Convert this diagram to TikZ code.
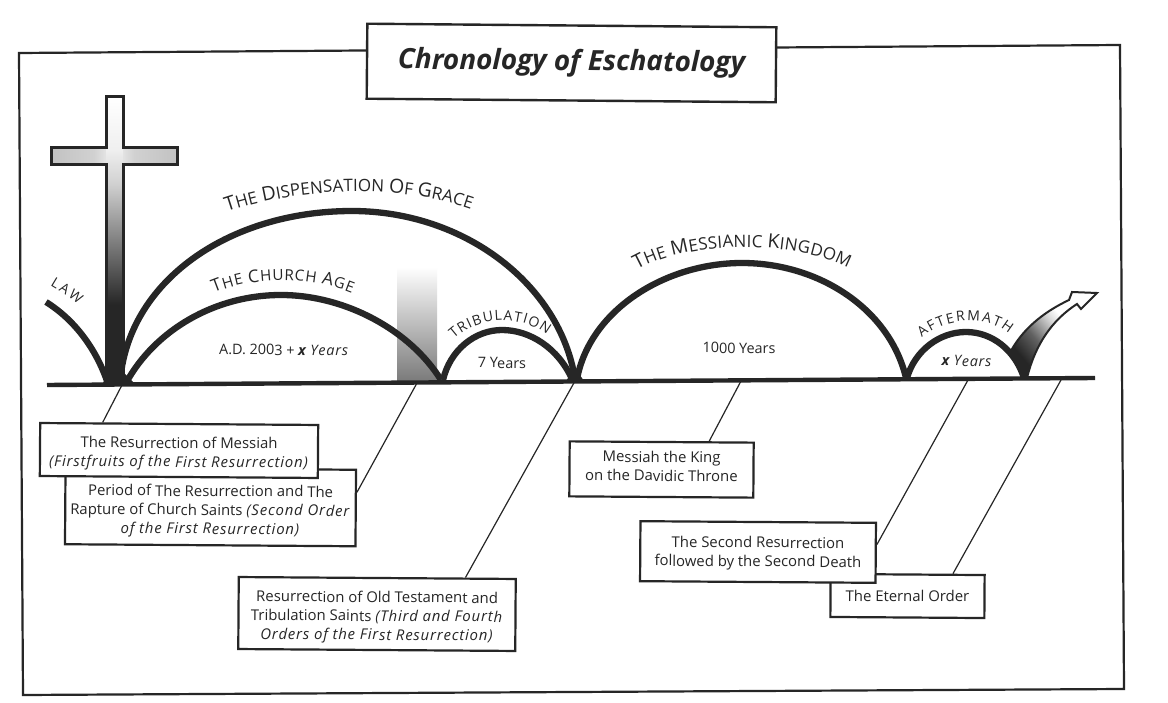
\documentclass[tikz,border=0pt]{standalone}
\usepackage{fontspec}
\setmainfont[ItalicFeatures={LetterSpace=5.5}]{Open Sans}
\usetikzlibrary{calc,decorations.text}
\definecolor{ink}{HTML}{262626}
\pgfdeclareverticalshading{postshade}{100bp}{
  color(0bp)=(ink); color(25bp)=(ink); color(39bp)=(ink);
  color(60bp)=(black!18); color(66bp)=(black!6); color(75bp)=(white); color(100bp)=(white)}
\pgfdeclarehorizontalshading{barshade}{100bp}{
  color(0bp)=(black!24); color(25bp)=(black!24); color(42bp)=(black!18);
  color(50bp)=(black!6); color(58bp)=(black!18); color(75bp)=(black!24); color(100bp)=(black!24)}
\pgfdeclarehorizontalshading{riseshade}{100bp}{
  color(0bp)=(ink); color(27bp)=(ink); color(40bp)=(black!62); color(54bp)=(black!15);
  color(60bp)=(white); color(100bp)=(white)}
\newcommand{\bigc}{\fontsize{19.5}{19.5}\selectfont}
\newcommand{\smc}{\fontsize{17}{17}\selectfont}
\newcommand{\bigd}{\fontsize{17.5}{17.5}\selectfont}
\newcommand{\smd}{\fontsize{15.2}{15.2}\selectfont}
\newcommand{\tinyc}{\fontsize{14}{14}\selectfont}
% a strut that pushes the lines of a box down by half of the extra height
\newcommand{\lift}[1]{\rule{0pt}{#1pt}}
\tikzset{
  x=1pt, y=-1pt,
  arch/.style={draw=ink, line width=6.3pt, line cap=butt},
  ground/.style={draw=ink, line width=4.4pt},
  frameline/.style={draw=ink, line width=2.2pt},
  leader/.style={draw=ink, line width=1.2pt},
  infobox/.style={draw=ink, line width=2.2pt, fill=white, rotate=-0.4, align=center,
    inner sep=0pt, text=ink, font=\fontsize{14.9}{18.8}\selectfont},
  span/.style={text=ink, font=\fontsize{14.4}{16}\selectfont, rotate=-0.4},
  curved/.style={decorate, decoration={text along path, text={#1}, text align={fit to path},
    text color=ink}}
}
\begin{document}
\begin{tikzpicture}
\useasboundingbox (0,0) rectangle (1168,703);
\fill[white] (0,0) rectangle (1168,703);

% outer frame and title
\draw[frameline] (19,53) -- (1120,45) -- (1124,689) -- (23,695) -- cycle;
\node[draw=ink, line width=2.4pt, fill=white, minimum width=409pt, minimum height=75pt, rotate=-0.5,
  text=ink, font=\fontsize{27.9}{30}\selectfont\bfseries\itshape] (title) at (571.5,63) {Chronology of Eschatology};

% fading band at the end of the church age
\path[shade, top color=white, bottom color=black!52] (397,267) rectangle (437,381);

% time line ends
\coordinate (lineL) at (47,385);
\coordinate (lineR) at (1095,378);

% cross
\path[shading=barshade] (51,148) rectangle (177,165);
\path[shading=postshade] (106,97) rectangle (123,385);
\draw[ink, line width=3pt, line join=miter]
  (106,97) -- (123,97) -- (123,148) -- (177,148) -- (177,165) -- (123,165) -- (123,385)
  -- (106,385) -- (106,165) -- (51,165) -- (51,148) -- (106,148) -- cycle;

% rising arrow after the aftermath
\path[draw=ink, line width=2pt, line join=miter, shading=riseshade, shading angle=40]
  (1012,349) .. controls (1026,325) and (1048,310) .. (1069,300)
  -- (1072,292) -- (1097,293) -- (1081,309) -- (1077,304)
  .. controls (1052,320) and (1035,345) .. (1027,378)
  -- (1022,378) .. controls (1020,368) and (1016,358) .. (1012,349) -- cycle;

% arches
\path[arch] (46,302) .. controls (75,320) and (97,350) .. (108,384);
\path[arch] (120,383) .. controls (127,282) and (228,211) .. (352,211)
  .. controls (465,211) and (560,285) .. (575,379);
\path[arch] (126,383) .. controls (155,330) and (215,295) .. (281,295)
  .. controls (345,295) and (410,330) .. (441,380);
\path[arch] (443,380) .. controls (450,350) and (475,330) .. (502,330)
  .. controls (530,330) and (558,348) .. (572,379);
\path[arch] (577,379) .. controls (590,310) and (665,263) .. (742,263)
  .. controls (820,263) and (890,310) .. (906,378);
\path[arch] (907,378) .. controls (915,350) and (940,332) .. (966,332)
  .. controls (992,332) and (1015,350) .. (1024,378);

% knots where the arches meet the line
\fill[ink] (102,385.5) -- (136,385) -- (123,372) -- (108,372) -- cycle;
\fill[ink] (566,381) -- (584,381) -- (575,368) -- cycle;

% time line
\path[ground] (lineL) -- (lineR);

% curved period names
\path[curved={|\bigc|T|\smc|HE |\bigc|D|\smc|ISPENSATION |\bigc|O|\smc|F |\bigc|G|\smc|RACE}]
  (227,212) .. controls (300,187) and (400,184) .. (471,209);
\path[curved={|\bigd|T|\smd|HE |\bigd|C|\smd|HURCH |\bigd|A|\smd|GE}]
  (214,293) .. controls (255,276) and (310,276) .. (352,293);
\path[curved={|\bigc|T|\smc|HE |\bigc|M|\smc|ESSIANIC |\bigc|K|\smc|INGDOM}]
  (637,270) .. controls (690,240) and (795,240) .. (848,268);
\path[curved={|\tinyc|TRIBULATION}]
  (454,339) .. controls (480,315) and (522,315) .. (547,335);
\path[curved={|\tinyc|AFTERMATH}]
  (922,338) .. controls (945,317) and (988,315) .. (1009,334);
\path[curved={|\tinyc|LAW}]
  (50,286) .. controls (60,292) and (70,298) .. (78,305);

% spans of time
\node[span] (spanA) at (284,350) {A.D. 2003 + \textbf{\textit{x}} \textit{Years}};
\node[span] (spanB) at (502,363) {7 Years};
\node[span] (spanC) at (739,348) {1000 Years};
\node[span] (spanD) at (967,361) {\textbf{\textit{x}} \textit{Years}};

% event boxes, later ones partly covering earlier ones
\node[infobox, minimum width=290.5pt, minimum height=76.5pt] (rapture) at (210.5,507)
  {\lift{20}Period of The Resurrection and The\\Rapture of Church Saints \textit{(Second Order}\\\textit{of the First Resurrection)}};
\node[infobox, minimum width=278pt, minimum height=53pt] (messiah) at (179,450.5)
  {\lift{18}The Resurrection of Messiah\\\textit{(Firstfruits of the First Resurrection)}};
\node[infobox, minimum width=277pt, minimum height=72pt] (saints) at (377,614)
  {\lift{18}Resurrection of Old Testament and\\Tribulation Saints \textit{(Third and Fourth}\\\textit{Orders of the First Resurrection)}};
\node[infobox, minimum width=184pt, minimum height=55pt] (king) at (661.5,469.5)
  {Messiah the King\\on the Davidic Throne\rule[-7pt]{0pt}{7pt}};
\node[infobox, minimum width=154pt, minimum height=43pt] (eternal) at (907.5,596)
  {The Eternal Order};
\node[infobox, minimum width=235.5pt, minimum height=60pt] (second) at (758,552)
  {\lift{14}The Second Resurrection\\followed by the Second Death};

% leaders from the time line down to the boxes
\coordinate (tickA) at (122,385);
\coordinate (tickB) at (417,383);
\coordinate (tickC) at (575,381);
\coordinate (tickD) at (741,381);
\coordinate (tickE) at (968,380);
\coordinate (tickF) at (1061,380);
\draw[leader] (tickA) -- ($(messiah.north west)!0.227!(messiah.north east)$);
\draw[leader] (tickB) -- ($(rapture.north east)!0.30!(rapture.south east)$);
\draw[leader] (tickC) -- ($(saints.north west)!0.816!(saints.north east)$);
\draw[leader] (tickD) -- ($(king.north west)!0.755!(king.north east)$);
\draw[leader] (tickE) -- ($(second.north east)!0.367!(second.south east)$);
\draw[leader] (tickF) -- ($(eternal.north west)!0.79!(eternal.north east)$);
\end{tikzpicture}
\end{document}
